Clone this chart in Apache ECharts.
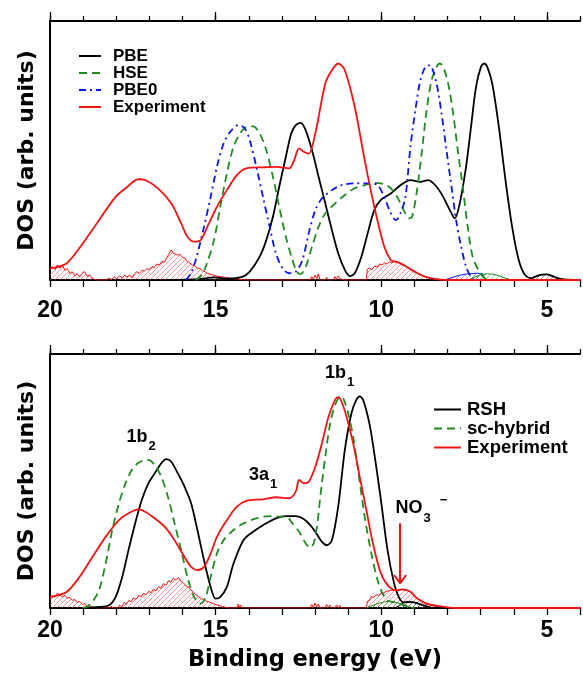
<!DOCTYPE html>
<html>
<head>
<meta charset="utf-8">
<script src="https://cdn.jsdelivr.net/npm/echarts@6/dist/echarts.min.js"></script>
<style>
html,body{margin:0;padding:0;background:#fff;overflow:hidden;}
#c{width:583px;height:673px;}
</style>
</head>
<body>
<div id="c"></div>
<script>
// ---------- data (binding energy eV, DOS arb. units 0-100) ----------
const xTickLabels = [20, 15, 10, 5];

// Top panel
const topPBE = [[16.5,0],[15.5,0.3],[15.05,1.0],[14.6,0.5],[14.2,1.2],[13.97,3.2],[13.67,9.0],[13.47,15.4],[13.27,24.4],[13.08,36.0],[12.88,47.6],[12.72,56.5],[12.58,59.8],[12.43,60.7],[12.28,57.8],[12.09,50.1],[11.89,39.8],[11.69,29.6],[11.49,19.3],[11.30,10.3],[11.10,3.9],[10.95,1.5],[10.80,2.6],[10.60,9.0],[10.41,18.0],[10.21,27.0],[10.01,30.9],[9.71,33.4],[9.42,36.6],[9.12,38.6],[8.82,37.9],[8.58,38.6],[8.33,36.0],[8.13,32.1],[7.93,27.0],[7.78,23.8],[7.63,29.6],[7.44,43.7],[7.29,59.1],[7.14,74.5],[6.99,82.3],[6.89,83.6],[6.80,82.3],[6.65,75.9],[6.45,59.1],[6.25,38.6],[6.05,20.6],[5.85,7.7],[5.66,1.9],[5.46,0.7],[5.3,1.6],[5.15,2.1],[5.0,2.2],[4.85,1.6],[4.7,0.8],[4.5,0.2],[4.0,0]];
const topHSE = [[15.6,0],[15.45,1.5],[15.30,5.1],[15.05,15.4],[14.86,28.3],[14.66,41.1],[14.46,51.4],[14.26,56.6],[14.07,59.1],[13.87,59.3],[13.67,56.6],[13.47,50.1],[13.27,39.8],[13.08,28.3],[12.88,16.7],[12.68,7.7],[12.55,3.2],[12.43,2.3],[12.28,5.1],[12.09,12.9],[11.89,20.6],[11.69,25.7],[11.39,29.6],[11.10,32.8],[10.80,35.4],[10.50,36.6],[10.21,37.5],[9.91,37.0],[9.71,35.4],[9.52,32.1],[9.32,27.0],[9.17,23.8],[9.07,24.4],[8.92,34.7],[8.77,50.1],[8.63,65.6],[8.48,77.1],[8.33,82.3],[8.23,83.6],[8.13,82.3],[7.98,75.9],[7.83,64.3],[7.69,50.1],[7.54,36.0],[7.39,20.6],[7.24,9.0],[7.04,3.2],[6.9,1.0],[6.8,0]];
const topPBE0 = [[15.9,0],[15.75,2.5],[15.60,7.7],[15.35,20.6],[15.15,32.1],[14.96,43.7],[14.76,52.7],[14.56,57.2],[14.31,59.8],[14.12,58.5],[13.97,54.0],[13.77,43.7],[13.57,32.1],[13.37,20.6],[13.18,10.3],[12.98,4.5],[12.78,2.6],[12.58,3.2],[12.38,7.7],[12.19,18.0],[11.99,27.0],[11.79,31.5],[11.49,34.7],[11.20,36.6],[10.80,37.3],[10.41,37.3],[10.11,36.6],[9.91,32.1],[9.71,25.7],[9.56,23.1],[9.42,25.7],[9.27,32.1],[9.12,51.4],[8.97,65.6],[8.82,77.1],[8.67,82.3],[8.58,82.9],[8.48,82.3],[8.33,75.9],[8.18,64.3],[8.03,50.1],[7.88,36.0],[7.74,23.1],[7.59,12.9],[7.44,5.1],[7.3,1.3],[7.2,0]];
const topExp = [[20.0,4.5],[19.5,6.4],[19.01,14.1],[18.52,23.1],[18.02,32.1],[17.72,35.4],[17.33,38.9],[17.13,38.6],[16.74,35.4],[16.34,29.6],[16.04,21.9],[15.85,16.7],[15.65,14.8],[15.45,15.4],[15.25,20.6],[14.96,28.3],[14.66,34.7],[14.36,40.5],[14.07,43.1],[13.57,43.5],[13.17,43.7],[12.78,43.1],[12.63,46.3],[12.48,50.8],[12.34,49.5],[12.19,48.8],[11.99,56.6],[11.69,75.9],[11.49,81.0],[11.30,83.6],[11.10,81.0],[10.80,66.8],[10.50,46.3],[10.21,28.3],[9.91,12.9],[9.71,7.6],[9.6,7.2],[9.45,6.6],[9.3,5.6],[9.1,4.0],[8.9,2.6],[8.7,1.4],[8.4,0.4],[8.0,0],[4.0,0]];
const topExpHatch = [[20.0,4.5],[19.93,5.2],[19.85,4.0],[19.78,5.8],[19.7,4.6],[19.62,5.5],[19.55,3.8],[19.48,4.4],[19.4,2.6],[19.33,3.2],[19.25,1.6],[19.18,2.4],[19.1,1.2],[19.02,2.8],[18.95,3.2],[18.88,1.4],[18.8,2.0],[18.72,0.6],[18.65,0.2],[18.55,0],[18.3,0],[18.22,0.8],[18.15,0.2],[18.05,1.2],[17.98,0.4],[17.9,1.6],[17.82,0.8],[17.75,1.8],[17.68,1.2],[17.6,1.8],[17.52,1.0],[17.45,2.4],[17.38,3.2],[17.3,2.6],[17.22,3.8],[17.15,3.4],[17.08,4.4],[17.0,4.0],[16.92,5.2],[16.85,4.8],[16.78,6.2],[16.7,5.8],[16.62,7.2],[16.55,6.8],[16.48,8.6],[16.42,9.8],[16.34,11.6],[16.28,10.4],[16.22,10.8],[16.15,9.6],[16.08,10.0],[16.0,8.8],[15.92,8.4],[15.85,7.0],[15.78,6.6],[15.7,5.8],[15.62,5.4],[15.55,4.6],[15.48,4.4],[15.4,3.6],[15.32,3.2],[15.25,2.6],[15.15,2.2],[15.05,1.8],[14.95,1.5],[14.85,1.3],[14.7,1.0],[14.5,0.6],[14.3,0.3],[14.15,0],[12.15,0],[12.1,1.3],[12.05,0.3],[12.0,1.9],[11.95,0.6],[11.9,2.4],[11.85,0],[11.7,0],[11.65,1.0],[11.6,0],[11.45,0],[11.4,1.3],[11.35,0.3],[11.3,1.6],[11.25,0.5],[11.2,1.2],[11.1,0],[10.45,0],[10.42,4.2],[10.35,4.6],[10.28,4.0],[10.2,5.4],[10.12,5.0],[10.05,6.2],[9.98,5.8],[9.9,6.6],[9.82,6.2],[9.75,7.0],[9.68,6.6],[9.6,7.2],[9.52,6.8],[9.45,6.6],[9.38,5.8],[9.3,5.6],[9.2,4.8],[9.1,4.0],[9.0,3.4],[8.9,2.6],[8.8,2.0],[8.7,1.4],[8.55,0.8],[8.4,0.4],[8.2,0.1],[8.0,0]];
const topPBEHatch = [[5.6,0],[5.46,0.7],[5.3,1.6],[5.15,2.1],[5.0,2.2],[4.85,1.6],[4.7,0.8],[4.5,0.2],[4.3,0]];
const topPBE0Hatch = [[8.1,0],[7.9,0.8],[7.7,1.6],[7.5,2.2],[7.3,2.5],[7.1,2.6],[6.95,2.5],[6.9,1.2],[6.85,0]];
const topHSEHatch = [[7.35,0],[7.2,1.0],[7.0,2.0],[6.8,2.4],[6.6,2.2],[6.4,1.4],[6.2,0.5],[6.05,0]];

// Bottom panel
const botRSH = [[19.0,0],[18.52,0.4],[18.22,1.1],[18.02,4.3],[17.82,12.2],[17.63,22.8],[17.43,33.3],[17.23,42.5],[17.03,49.1],[16.84,53.0],[16.64,57.0],[16.49,58.6],[16.34,57.6],[16.14,53.0],[15.94,47.8],[15.74,41.2],[15.55,30.7],[15.35,18.8],[15.15,8.3],[15.00,3.7],[14.86,4.3],[14.66,8.3],[14.46,17.5],[14.16,26.7],[13.87,30.0],[13.57,32.6],[13.18,35.3],[12.88,36.2],[12.58,36.2],[12.38,35.3],[12.19,33.3],[11.99,30.0],[11.79,26.0],[11.64,24.7],[11.49,26.7],[11.30,39.9],[11.10,62.2],[10.90,76.7],[10.75,82.0],[10.65,83.3],[10.55,82.0],[10.36,72.8],[10.21,60.9],[10.01,42.5],[9.81,22.8],[9.61,9.6],[9.47,4.3],[9.32,2.2],[9.2,2.4],[9.05,2.3],[8.9,1.8],[8.75,1.1],[8.6,0.5],[8.45,0],[4.0,0]];
const botHyb = [[19.0,0],[18.85,0.8],[18.72,2.4],[18.52,7.0],[18.32,17.5],[18.12,30.7],[17.92,41.2],[17.72,49.1],[17.53,54.3],[17.33,57.2],[17.03,58.3],[16.84,56.3],[16.64,51.7],[16.44,43.8],[16.24,33.3],[16.04,22.8],[15.85,12.2],[15.65,4.3],[15.45,1.7],[15.30,4.3],[15.15,12.2],[14.96,21.5],[14.76,26.7],[14.46,30.7],[14.16,33.3],[13.77,35.3],[13.37,36.2],[13.18,36.0],[12.88,36.0],[12.68,33.3],[12.48,30.0],[12.28,25.4],[12.14,23.8],[12.04,25.4],[11.94,32.0],[11.84,43.8],[11.69,59.6],[11.54,72.8],[11.39,80.0],[11.25,83.0],[11.15,82.6],[11.00,76.7],[10.85,67.5],[10.70,54.3],[10.50,35.9],[10.30,21.5],[10.11,10.9],[9.96,5.7],[9.81,3.0],[9.6,2.2],[9.42,1.5],[9.22,0.6],[9.0,0]];
const botExp = [[20.0,4.3],[19.50,6.3],[19.11,12.2],[18.72,20.1],[18.32,28.0],[17.92,34.6],[17.63,37.3],[17.33,38.8],[17.13,37.9],[16.84,35.3],[16.54,32.0],[16.24,26.7],[15.94,20.1],[15.74,16.2],[15.55,14.9],[15.35,16.2],[15.15,21.5],[14.96,28.0],[14.66,34.6],[14.36,39.9],[14.07,42.2],[13.57,42.8],[13.17,43.6],[12.78,43.2],[12.58,45.8],[12.48,50.4],[12.34,49.1],[12.19,49.7],[11.99,55.6],[11.79,64.9],[11.59,75.4],[11.39,82.0],[11.30,83.0],[11.20,81.3],[11.05,75.4],[10.85,64.9],[10.65,51.7],[10.45,38.6],[10.25,25.4],[10.01,13.6],[9.76,8.3],[9.52,7.0],[9.38,7.3],[9.3,7.2],[9.12,6.4],[8.92,3.8],[8.63,1.7],[8.23,0.7],[7.8,0],[4.0,0]];
const botExpHatch = [[20.0,4.3],[19.93,5.0],[19.85,4.2],[19.78,5.8],[19.7,5.2],[19.62,4.4],[19.55,5.0],[19.48,3.8],[19.4,4.2],[19.32,3.0],[19.25,3.4],[19.18,2.2],[19.1,2.6],[19.02,1.4],[18.95,1.8],[18.88,0.6],[18.8,1.0],[18.7,0.2],[18.6,0],[18.45,0],[18.4,0.6],[18.35,0],[18.2,0],[18.15,0.8],[18.1,0],[17.95,0],[17.9,1.2],[17.83,0.4],[17.76,2.2],[17.7,1.4],[17.62,3.0],[17.55,2.4],[17.48,4.0],[17.4,3.4],[17.32,5.0],[17.25,4.4],[17.18,5.8],[17.1,5.2],[17.02,6.6],[16.95,6.0],[16.88,7.4],[16.8,6.8],[16.72,8.4],[16.65,7.8],[16.58,9.6],[16.5,9.0],[16.42,10.8],[16.35,10.2],[16.28,11.8],[16.2,11.0],[16.12,12.0],[16.05,10.4],[15.98,10.0],[15.9,8.8],[15.82,8.2],[15.75,7.0],[15.68,6.4],[15.6,5.2],[15.52,4.6],[15.45,3.8],[15.38,3.4],[15.3,2.8],[15.2,2.4],[15.1,1.8],[15.0,1.4],[14.9,1.0],[14.8,0.6],[14.7,0.3],[14.6,0],[14.35,0],[14.32,1.6],[14.28,0.2],[14.25,1.2],[14.2,0],[12.15,0],[12.1,1.4],[12.05,0.2],[12.0,2.0],[11.95,0.5],[11.9,1.6],[11.85,0],[11.7,0],[11.65,1.4],[11.6,0.3],[11.55,1.2],[11.5,0],[11.4,0],[11.35,1.2],[11.3,0.2],[11.25,1.0],[11.2,0],[10.45,0],[10.42,2.6],[10.35,3.2],[10.3,4.6],[10.22,4.2],[10.15,5.2],[10.08,5.0],[10.0,5.8],[9.92,6.0],[9.85,6.6],[9.76,6.8],[9.68,7.0],[9.6,6.9],[9.52,7.0],[9.45,7.1],[9.38,7.3],[9.3,7.2],[9.22,6.9],[9.12,6.4],[9.02,5.2],[8.92,3.8],[8.8,2.6],[8.65,1.6],[8.5,1.0],[8.3,0.6],[8.1,0.2],[7.9,0]];
const botRSHHatch = [[9.6,0],[9.45,1.0],[9.32,2.0],[9.2,2.4],[9.05,2.3],[8.9,1.8],[8.75,1.1],[8.6,0.5],[8.45,0]];
const botHybHatch = [[10.45,0],[10.3,0.8],[10.1,1.8],[9.9,2.4],[9.75,2.6],[9.55,2.2],[9.35,1.3],[9.15,0.5],[9.0,0]];

// Annotations: [E, DOS] anchor (left edge, vertical centre of main text)
const annotations = [
  {main:'1b', sub:'2', sup:'', at:[17.69, 67.5]},
  {main:'3a', sub:'1', sup:'', at:[13.99, 52.4]},
  {main:'1b', sub:'1', sup:'', at:[11.70, 92.6]},
  {main:'NO', sub:'3', sup:'\u2212', at:[9.57, 39.3]}
];
const arrowFrom = [9.43, 33.4];
const arrowTo = [9.43, 9.7];

// ---------- styling ----------
const C = {black:'#000000', green:'#1e8c1e', blue:'#0a14f0', red:'#f01414'};
const NUMFONT = 'Liberation Sans';
const TITLEFONT = 'DejaVu Sans';

function hatch(color){
  const c = document.createElement('canvas');
  c.width = 5; c.height = 5;
  const g = c.getContext('2d');
  g.strokeStyle = color; g.lineWidth = 0.8;
  g.beginPath();
  g.moveTo(0,5); g.lineTo(5,0);
  g.moveTo(-1,1); g.lineTo(1,-1);
  g.moveTo(4,6); g.lineTo(6,4);
  g.stroke();
  return {image:c, repeat:'repeat'};
}

function xAxes(gi, margin, withName){
  const base = {type:'value', gridIndex:gi, min:4, max:20, inverse:true, interval:1, splitLine:{show:false}};
  return [
    Object.assign({}, base, {
      position:'bottom',
      axisLine:{show:true, onZero:false, lineStyle:{color:'#000', width:2}},
      axisTick:{show:true, length:7, lineStyle:{color:'#000', width:1.3}},
      axisLabel:{show:true, margin:margin, color:'#000', fontSize:23, fontWeight:'bold', fontFamily:NUMFONT,
        formatter: v => (xTickLabels.indexOf(v) >= 0 ? String(v) : '')},
      name: withName ? 'Binding energy (eV)' : '',
      nameLocation:'middle', nameGap:41,
      nameTextStyle:{color:'#000', fontSize:22.5, fontWeight:'bold', fontFamily:TITLEFONT}
    }),
    Object.assign({}, base, {
      position:'top',
      axisLine:{show:true, onZero:false, lineStyle:{color:'#000', width:2}},
      axisTick:{show:true, length:5, lineStyle:{color:'#000', width:1.3}},
      axisLabel:{show:false}
    }),
    Object.assign({}, base, {
      position:'top',
      axisLine:{show:false, onZero:false},
      axisTick:{show:true, length:9, customValues:xTickLabels, lineStyle:{color:'#000', width:1.3}},
      axisLabel:{show:false}
    })
  ];
}

function yAxis(gi){
  return {type:'value', gridIndex:gi, min:0, max:100, splitLine:{show:false},
    axisLine:{show:true, onZero:false, lineStyle:{color:'#000', width:2}},
    axisTick:{show:false}, axisLabel:{show:false},
    name:'DOS (arb. units)', nameLocation:'middle', nameGap:12, nameRotate:90,
    nameTextStyle:{color:'#000', fontSize:22, fontWeight:'bold', fontFamily:TITLEFONT}};
}

function line(name, data, xi, yi, color, type, width, z){
  return {name, type:'line', data, xAxisIndex:xi, yAxisIndex:yi, symbol:'none', smooth:0.3,
    lineStyle:{color, width, type}, itemStyle:{color}, z: z||3, silent:true};
}
function hatchSeries(name, data, xi, yi, color, fill){
  return {name, type:'line', data, xAxisIndex:xi, yAxisIndex:yi, symbol:'none', smooth:false,
    lineStyle:{color, width:1}, itemStyle:{color}, areaStyle:{color:hatch(fill), opacity:1}, z:2, silent:true};
}

const DASH = [8,5];
const DASHDOT = [7,4,2,4];

const series = [
  hatchSeries('hatchTopExp', topExpHatch, 0, 0, C.red, 'rgba(235,80,80,0.75)'),
  hatchSeries('hatchTopPBE', topPBEHatch, 0, 0, C.black, 'rgba(70,70,70,0.7)'),
  hatchSeries('hatchTopPBE0', topPBE0Hatch, 0, 0, C.blue, 'rgba(40,40,240,0.6)'),
  hatchSeries('hatchTopHSE', topHSEHatch, 0, 0, C.green, 'rgba(30,140,30,0.6)'),
  line('PBE', topPBE, 0, 0, C.black, 'solid', 1.8, 4),
  line('HSE', topHSE, 0, 0, C.green, DASH, 1.8, 4),
  line('PBE0', topPBE0, 0, 0, C.blue, DASHDOT, 1.8, 4),
  line('Experiment', topExp, 0, 0, C.red, 'solid', 1.8, 5),

  hatchSeries('hatchBotExp', botExpHatch, 3, 1, C.red, 'rgba(235,80,80,0.75)'),
  hatchSeries('hatchBotRSH', botRSHHatch, 3, 1, C.black, 'rgba(70,70,70,0.7)'),
  hatchSeries('hatchBotHyb', botHybHatch, 3, 1, C.green, 'rgba(30,140,30,0.6)'),
  line('RSH', botRSH, 3, 1, C.black, 'solid', 1.8, 4),
  line('sc-hybrid', botHyb, 3, 1, C.green, DASH, 1.8, 4),
  Object.assign(line('Experiment', botExp, 3, 1, C.red, 'solid', 1.8, 5), {
    markLine:{silent:true, symbol:['none','none'], animation:false,
      lineStyle:{color:C.red, width:2, type:'solid'}, label:{show:false},
      data:[
        [{coord:arrowFrom},{coord:arrowTo}],
        [{coord:[arrowTo[0]+0.18, arrowTo[1]+3.3]},{coord:arrowTo}],
        [{coord:[arrowTo[0]-0.18, arrowTo[1]+3.3]},{coord:arrowTo}]
      ]}
  })
];

const legendText = (size, lh, pad) => ({color:'#000', fontSize:size, fontWeight:'bold', fontFamily:NUMFONT, lineHeight:lh, padding:[0,0,0,pad]});

const option = {
  animation:false,
  backgroundColor:'#fff',
  grid:[
    {left:50, top:21, width:540, height:259, containLabel:false},
    {left:50, top:354, width:540, height:254, containLabel:false}
  ],
  xAxis:[...xAxes(0, 19, false), ...xAxes(1, 11, true)],
  yAxis:[yAxis(0), yAxis(1)],
  legend:[
    {data:['PBE','HSE','PBE0','Experiment'], orient:'vertical', left:73, top:42.5,
      itemWidth:22, itemHeight:10, itemGap:0, selectedMode:false, itemStyle:{opacity:0},
      textStyle:legendText(17,15.5,7)},
    {data:['RSH','sc-hybrid','Experiment'], orient:'vertical', left:428, top:395,
      itemWidth:27, itemHeight:10, itemGap:0, selectedMode:false, itemStyle:{opacity:0},
      textStyle:legendText(18.5,18,1)}
  ],
  series
};

const chart = echarts.init(document.getElementById('c'), null, {renderer:'canvas'});
chart.setOption(option);

// annotations placed through the bottom grid's scales
const mctx = document.createElement('canvas').getContext('2d');
function textW(t, size){ mctx.font = 'bold ' + size + 'px "' + NUMFONT + '"'; return mctx.measureText(t).width; }
const graphics = [];
annotations.forEach(a => {
  const p = chart.convertToPixel({xAxisIndex:3, yAxisIndex:1}, a.at);
  const mainSize = 18, subSize = 13;
  graphics.push({type:'text', x:p[0], y:p[1], silent:true,
    style:{text:a.main, fill:'#000', font:'bold '+mainSize+'px "'+NUMFONT+'"', align:'left', verticalAlign:'middle'}});
  const sx = p[0] + textW(a.main, mainSize) + 1;
  graphics.push({type:'text', x:sx, y:p[1]+10, silent:true,
    style:{text:a.sub, fill:'#000', font:'bold '+subSize+'px "'+NUMFONT+'"', align:'left', verticalAlign:'middle'}});
  if (a.sup) {
    graphics.push({type:'text', x:sx + textW(a.sub, subSize) + 9, y:p[1]-8, silent:true,
      style:{text:a.sup, fill:'#000', font:'bold '+subSize+'px "'+NUMFONT+'"', align:'left', verticalAlign:'middle'}});
  }
});
chart.setOption({graphic:graphics});
</script>
</body>
</html>
